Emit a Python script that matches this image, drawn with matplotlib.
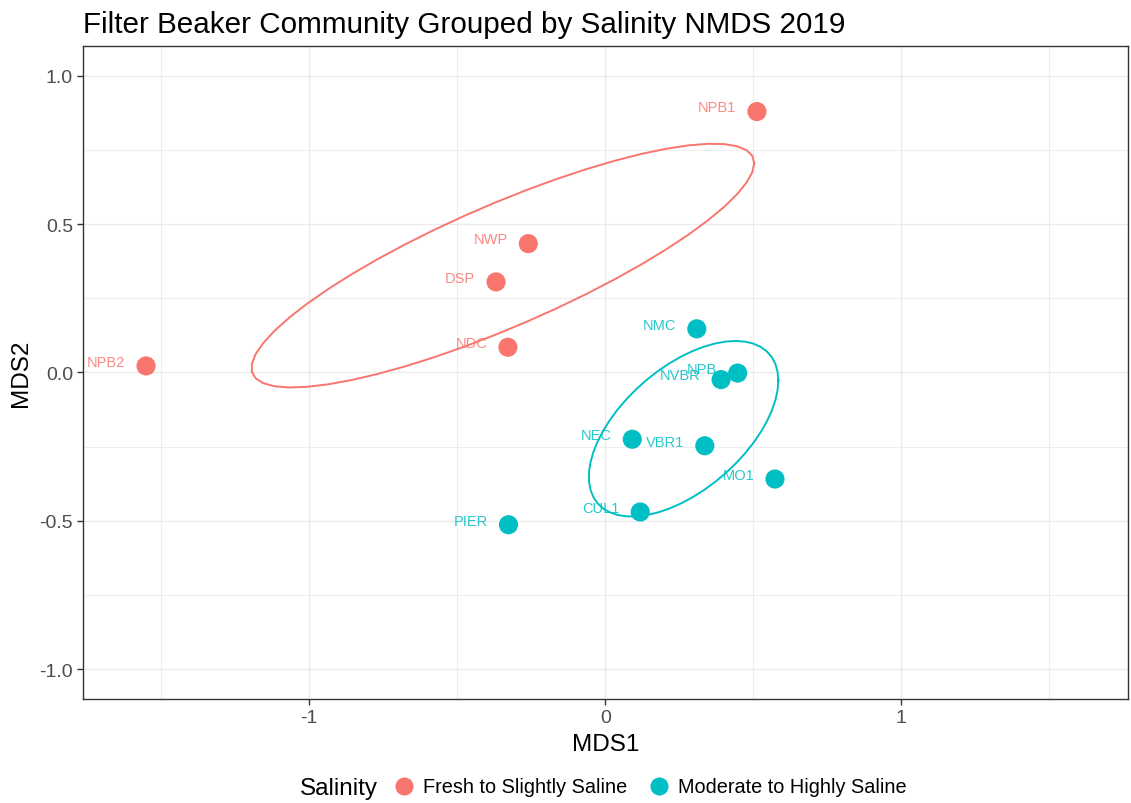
"""NMDS ordination of filter beaker communities, grouped by salinity."""
import matplotlib
matplotlib.use("Agg")
import matplotlib.pyplot as plt
from matplotlib.lines import Line2D
import numpy as np

plt.rcParams["font.family"] = ["Liberation Sans", "DejaVu Sans"]

sites = ["NPB1", "NWP", "DSP", "NDC", "NPB2",
         "NMC", "NPB", "NVBR", "NEC", "VBR1", "MO1", "CUL1", "PIER"]
mds1 = [0.512, -0.260, -0.369, -0.329, -1.551,
        0.309, 0.447, 0.391, 0.091, 0.336, 0.573, 0.118, -0.327]
mds2 = [0.879, 0.434, 0.305, 0.085, 0.022,
        0.147, -0.002, -0.024, -0.225, -0.247, -0.359, -0.470, -0.513]
salinity = ["Fresh to Slightly Saline"] * 5 + ["Moderate to Highly Saline"] * 8

groups = ["Fresh to Slightly Saline", "Moderate to Highly Saline"]
colors = {"Fresh to Slightly Saline": "#F8766D", "Moderate to Highly Saline": "#00BFC4"}
ELLIPSE_LEVEL = 0.6


def cov_trob(x, nu=5, maxit=25, tol=0.01):
    # robust multivariate t estimate, same as MASS::cov.trob
    n, p = x.shape
    wt = np.ones(n)
    loc = x.mean(axis=0)
    w = np.sqrt(wt)
    for _ in range(maxit):
        w0 = w
        X = x - loc
        _, d, vt = np.linalg.svd(np.sqrt(w / w.sum())[:, None] * X, full_matrices=False)
        wX = X @ vt.T @ np.diag(1 / d)
        Q = (wX ** 2).sum(axis=1)
        w = wt * (nu + p) / (nu + Q)
        loc = (w[:, None] * x).sum(axis=0) / w.sum()
        if np.all(np.abs(w - w0) < tol):
            break
    cov = (np.sqrt(w)[:, None] * X).T @ (np.sqrt(w)[:, None] * X) / wt.sum()
    return cov, loc


def t_ellipse(x, level=0.95, segments=51):
    cov, center = cov_trob(x)
    dfd = len(x) - 1
    # F(2, dfd) quantile has a closed form
    fq = dfd / 2 * ((1 - level) ** (-2 / dfd) - 1)
    radius = np.sqrt(2 * fq)
    ang = np.arange(segments + 1) * 2 * np.pi / segments
    circle = np.column_stack([np.cos(ang), np.sin(ang)])
    chol = np.linalg.cholesky(cov).T
    return center + radius * circle @ chol


fig = plt.figure(figsize=(11.31, 8.04), dpi=100)
ax = fig.add_axes([0.0731, 0.1294, 0.9242, 0.8122])

x_all = np.array(mds1)
y_all = np.array(mds2)
lab = np.array(salinity)

for g in groups:
    m = lab == g
    ell = t_ellipse(np.column_stack([x_all[m], y_all[m]]), level=ELLIPSE_LEVEL)
    ax.plot(ell[:, 0], ell[:, 1], color=colors[g], lw=1.4, zorder=3)
    ax.scatter(x_all[m], y_all[m], s=190, color=colors[g], edgecolors="none", zorder=4)

for s, xv, yv, g in zip(sites, mds1, mds2, salinity):
    ax.annotate(s, (xv, yv), xytext=(-15, 3), textcoords="offset points",
                ha="right", va="center", fontsize=10.5, color=colors[g], alpha=0.85, zorder=5)

ax.set_xlim(-1.765, 1.765)
ax.set_ylim(-1.1, 1.1)
ax.set_xticks([-1, 0, 1])
ax.set_xticklabels(["-1", "0", "1"])
ax.set_yticks([-1.0, -0.5, 0.0, 0.5, 1.0])
ax.set_yticklabels(["-1.0", "-0.5", "0.0", "0.5", "1.0"])
ax.set_xticks([-1.5, -0.5, 0.5, 1.5], minor=True)
ax.set_yticks([-0.75, -0.25, 0.25, 0.75], minor=True)
ax.grid(which="major", color="#EBEBEB", lw=1.0)
ax.grid(which="minor", color="#EBEBEB", lw=0.6)
ax.set_axisbelow(True)
ax.tick_params(which="major", length=4, width=1, color="#333333",
               labelsize=14, labelcolor="#4D4D4D", pad=3)
ax.tick_params(which="minor", length=0)
for sp in ax.spines.values():
    sp.set_color("#333333")
    sp.set_linewidth(1.0)

ax.set_xlabel("MDS1", fontsize=17.5, labelpad=5)
ax.set_ylabel("MDS2", fontsize=17.5, labelpad=5)
ax.set_title("Filter Beaker Community Grouped by Salinity NMDS 2019",
             fontsize=21.3, loc="left", pad=10)

fig.text(300 / 1131, 1 - 789 / 804, "Salinity", fontsize=17.5, va="center", ha="left")
handles = [Line2D([], [], marker="o", ls="none", markersize=13, color=colors[g],
                  markeredgecolor="none") for g in groups]
fig.legend(handles, groups, loc="center left", bbox_to_anchor=(378 / 1131, 1 - 788 / 804),
           ncol=2, frameon=False, fontsize=14.3, handletextpad=0.15, columnspacing=0.8,
           handlelength=1.6, borderpad=0)

plt.savefig("out.png", dpi=100)
plt.close()
